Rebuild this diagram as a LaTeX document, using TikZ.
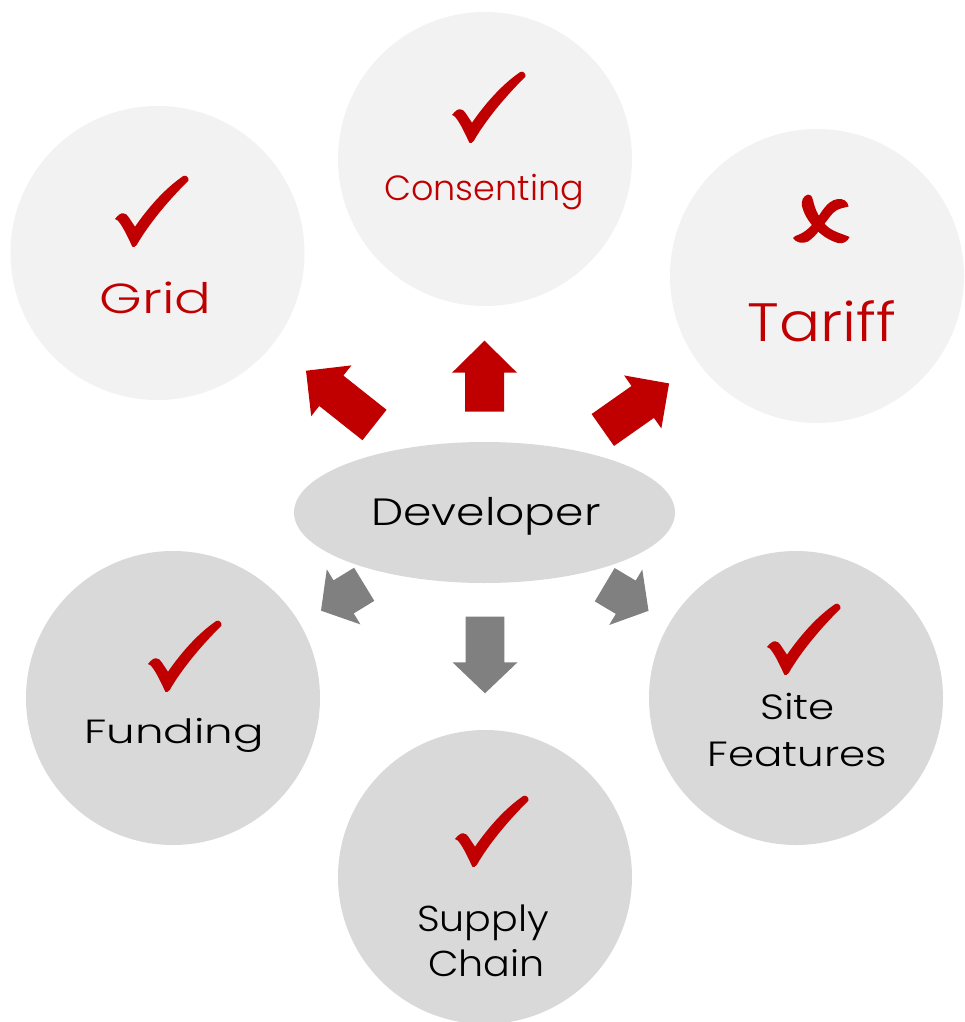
\documentclass[tikz,border=0pt]{standalone}
\usepackage{fontspec}
\usepackage{graphicx}
\setmainfont{Poppins}[UprightFont=* Light]
\usetikzlibrary{shapes.geometric}
\definecolor{cred}{HTML}{C00000}
\definecolor{clight}{HTML}{F2F2F2}
\definecolor{cmid}{HTML}{D9D9D9}
\definecolor{carrow}{HTML}{808080}
\newcommand{\blockarr}[8]{%
  \fill[#8, shift={(#1,#2)}, rotate=#3]
    (0,-#5) -- ({#4-#7},-#5) -- ({#4-#7},-#6) -- (#4,0) -- ({#4-#7},#6) -- ({#4-#7},#5) -- (0,#5) -- cycle;}
\newcommand{\wtxt}[2]{\scalebox{#1}[1]{#2}}
\tikzset{
  bubble/.style={circle, inner sep=0, minimum size=294pt},
  toprow/.style={bubble, fill=clight},
  botrow/.style={bubble, fill=cmid},
  lbl/.style={inner sep=0, anchor=base, align=center},
  checkmark/.pic={
    \fill[cred] (0,-28) .. controls (3,-32) and (6,-34) .. (8.3,-33.7)
      .. controls (11,-33.5) and (12,-32) .. (13.3,-30.3) -- (20,-20.3)
      .. controls (35,-42) and (52,-60) .. (68.3,-71)
      .. controls (71,-72.5) and (74.5,-69) .. (73.3,-66.3)
      .. controls (55,-48) and (35,-25) .. (21.7,-2)
      .. controls (20.5,0) and (18,0.5) .. (17.3,-0.3)
      .. controls (12,-12) and (6,-24) .. (2,-27) -- cycle;
  }
}
\begin{document}
\begin{tikzpicture}[x=1pt, y=-1pt]
\useasboundingbox (0,0) rectangle (964,1022);
\begin{scope}
\clip (0,0) rectangle (964,1022);
% bubbles
\node[toprow] (grid) at (157.5,253) {};
\node[toprow] (cons) at (485,159) {};
\node[toprow] (tariff) at (817,276) {};
\node[botrow] (fund) at (173,698) {};
\node[botrow] (site) at (796,698) {};
\node[botrow] (supply) at (485,877) {};
\node[ellipse, fill=cmid, inner sep=0, minimum width=381pt, minimum height=141pt] (dev) at (484.5,512.5) {};
\end{scope}
% labels
\node[lbl, text=cred, font=\fontsize{42}{50}\selectfont] (tgrid) at (155.5,313) {\wtxt{1.3}{Grid}};
\node[lbl, text=cred, font=\fontsize{35}{42}\selectfont] (tcons) at (484,200) {\wtxt{1.0}{Consenting}};
\node[lbl, text=cred, font=\fontsize{54}{64}\selectfont] (ttariff) at (822,341.7) {\wtxt{1.13}{Tariff}};
\node[lbl, font=\fontsize{38}{46}\selectfont] (tdev) at (486,525) {\wtxt{1.2}{Developer}};
\node[lbl, font=\fontsize{33.5}{40}\selectfont] (tfund) at (174,743) {\wtxt{1.35}{Funding}};
\node[lbl, font=\fontsize{35}{42}\selectfont] (tsite) at (797.5,719) {\wtxt{1.2}{Site}};
\node[lbl, font=\fontsize{35}{42}\selectfont] (tfeat) at (797.5,766) {\wtxt{1.2}{Features}};
\node[lbl, font=\fontsize{36}{43}\selectfont] (tsupply) at (483,931.7) {\wtxt{1.1}{Supply}};
\node[lbl, font=\fontsize{36}{43}\selectfont] (tchain) at (486.5,976) {\wtxt{1.1}{Chain}};
% check marks
\pic (c1) at (115,247) {checkmark};
\pic (c2) at (452,143) {checkmark};
\pic (c3) at (148,692) {checkmark};
\pic (c4) at (767,675) {checkmark};
\pic (c5) at (455,867) {checkmark};
% cross (two brush strokes)
\fill[cred] (808,194.5) .. controls (803,196) and (801,201) .. (802,206)
  .. controls (805,220) and (820,238) .. (838,243)
  .. controls (843,244.5) and (848,241) .. (849.5,237)
  .. controls (843,234) and (834,232) .. (828,227)
  .. controls (820,220) and (815,210) .. (813,200)
  .. controls (812,196) and (810,194) .. (808,194.5) -- cycle;
\fill[cred] (848.5,206.5) .. controls (848,201) and (843,198.5) .. (838,199)
  .. controls (832,199.5) and (827,204) .. (822,211)
  .. controls (815,222) and (808,231) .. (799,234.5)
  .. controls (796,235.5) and (794,236.5) .. (793,238)
  .. controls (796,243) and (803,244) .. (808,241.5)
  .. controls (817,236) and (825,222) .. (833,213)
  .. controls (838,208) and (844,208) .. (848.5,206.5) -- cycle;
% block arrows
\blockarr{484.5}{411.7}{90}{71}{19.5}{32.5}{32}{cred}
\blockarr{374.5}{425}{141.6}{87.4}{19.4}{32.4}{32.3}{cred}
\blockarr{602.8}{430}{35.1}{81}{19.5}{32.4}{32.2}{cred}
\blockarr{485}{616.7}{-90}{76.6}{19.3}{32.5}{31}{carrow}
\blockarr{364.2}{584.3}{211.4}{50.6}{19.4}{32.3}{26.5}{carrow}
\blockarr{604.7}{584.7}{-30.8}{51}{19.4}{32.3}{26.5}{carrow}
\end{tikzpicture}
\end{document}
